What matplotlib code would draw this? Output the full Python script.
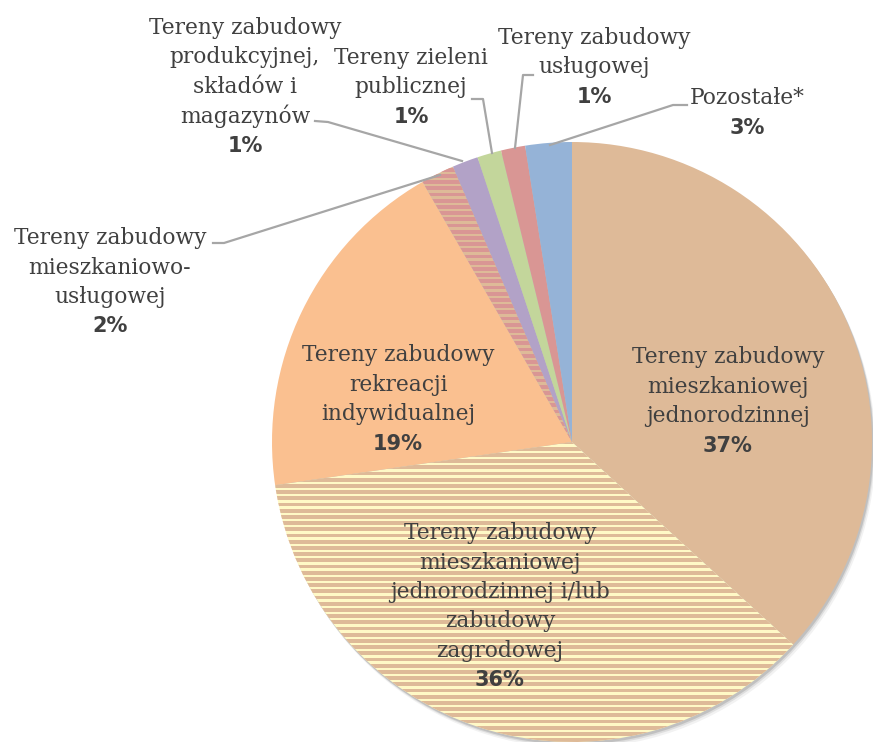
import numpy as np
import matplotlib.pyplot as plt
from matplotlib.patches import Circle

# Udział poszczególnych terenów
labels = [
    "Tereny zabudowy\nmieszkaniowej\njednorodzinnej",
    "Tereny zabudowy\nmieszkaniowej\njednorodzinnej i/lub\nzabudowy\nzagrodowej",
    "Tereny zabudowy\nrekreacji\nindywidualnej",
    "Tereny zabudowy\nmieszkaniowo-\nusługowej",
    "Tereny zabudowy\nprodukcyjnej,\nskładów i\nmagazynów",
    "Tereny zieleni\npublicznej",
    "Tereny zabudowy\nusługowej",
    "Pozostałe*",
]
shares = [36.8, 35.9, 19.0, 1.8, 1.4, 1.3, 1.3, 2.5]
pct_labels = ["37%", "36%", "19%", "2%", "1%", "1%", "1%", "3%"]

face = ["#DEBA98", "#FFF9C6", "#FAC090", "#DEBA98", "#B2A2C7", "#C3D69B", "#D99694", "#95B3D7"]
stripe_col = [None, "#DEBA98", None, "#D99694", None, None, None, None]

W, H = 873, 742
fig = plt.figure(figsize=(W / 100, H / 100), dpi=100)
ax = fig.add_axes([0, 0, 1, 1])

cx, cy, R = 572, 300, 300

wedges, _ = ax.pie(shares, center=(cx, cy), radius=R, startangle=90, counterclock=False,
                   colors=face, wedgeprops=dict(linewidth=0))

# paski poziome (deseń) przycięte do wycinka
period, thick = 6.2, 3.9
ys = np.arange(0, H, period)
for w, sc in zip(wedges, stripe_col):
    w.set_zorder(2)
    if sc:
        bars = ax.barh(ys, W, left=0, height=thick, align="edge", color=sc, lw=0, zorder=3)
        for b in bars:
            b.set_clip_path(w)

# miękki cień pod kołem
for off, a in [(6, 0.10), (4, 0.18), (2.5, 0.3)]:
    ax.add_patch(Circle((cx + off * 0.6, cy - off), R, color="#808080", alpha=a, lw=0, zorder=0))

ax.set_xlim(0, W)
ax.set_ylim(0, H)
ax.set_aspect("equal")
ax.axis("off")

txt = "#404040"
PITCH = 29.5
serif = dict(family="DejaVu Serif", fontsize=15.7, color=txt, ha="center", va="center")
bold = dict(family="DejaVu Sans", fontsize=15, fontweight="bold", color=txt, ha="center", va="center")


def put(i, x, y_first):
    # y_first: środek pierwszej linii w pikselach od góry obrazka
    lines = labels[i].split("\n")
    for k, line in enumerate(lines):
        ax.text(x, H - (y_first + k * PITCH), line, zorder=5, **serif)
    ax.text(x, H - (y_first + len(lines) * PITCH), pct_labels[i], zorder=5, **bold)


put(0, 728, 357)
put(1, 500, 533)
put(2, 398, 355)
put(3, 110, 238)
put(4, 245, 28)
put(5, 411, 58)
put(6, 594, 38)
put(7, 747, 98)

lc = dict(color="#A6A6A6", lw=1.6, zorder=4)
leaders = [
    ([213, 224, 440], [243, 243, 175]),
    ([315, 328, 462], [121, 122, 161]),
    ([472, 483, 492], [99, 99, 153]),
    ([533, 523, 515], [75, 75, 148]),
    ([687, 673, 550], [105, 105, 145]),
]
for xs, ys_ in leaders:
    ax.plot(xs, [H - y for y in ys_], **lc)

fig.savefig("out.png", dpi=100)
